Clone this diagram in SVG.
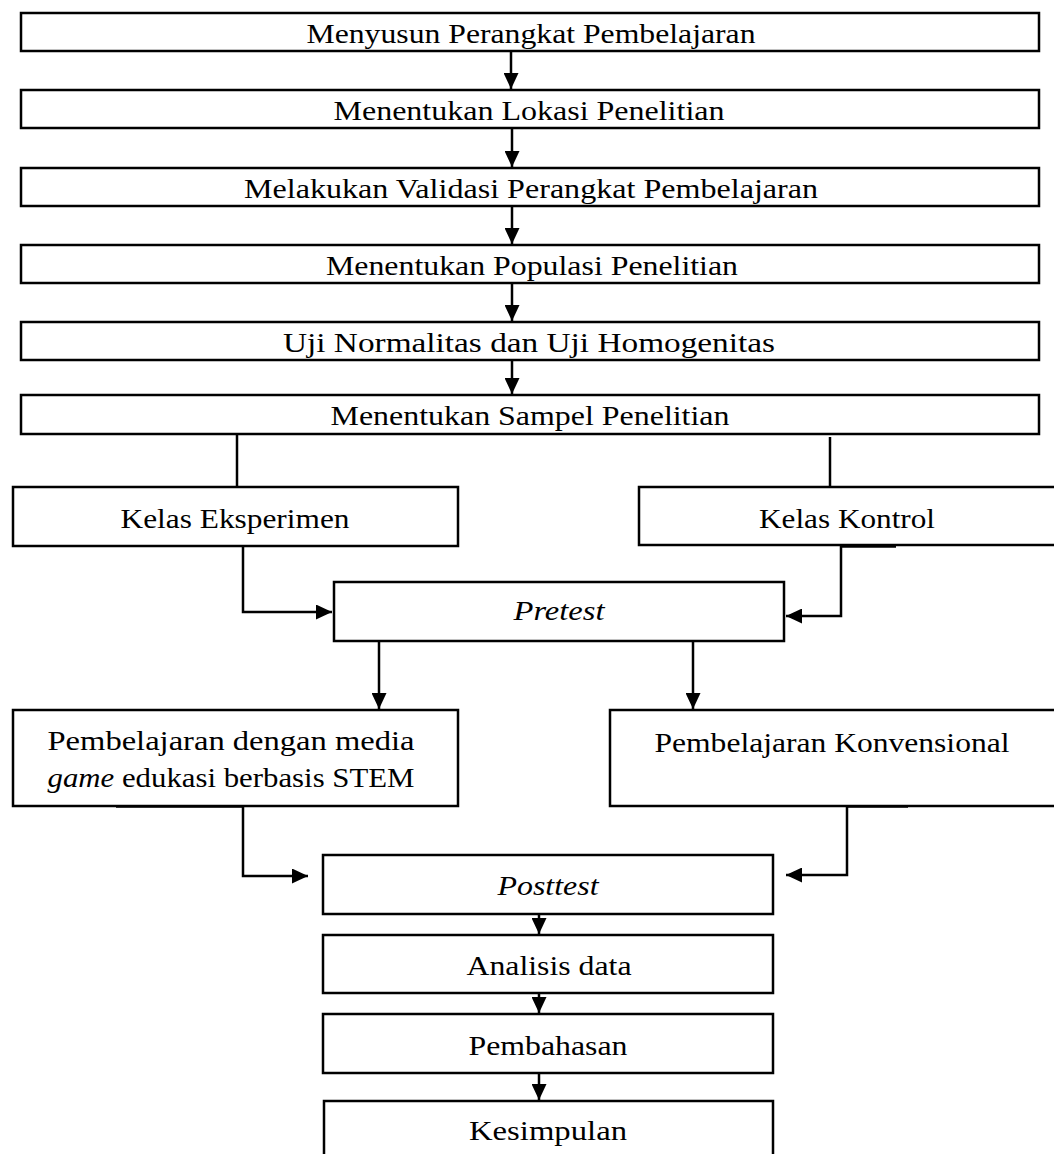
<svg xmlns="http://www.w3.org/2000/svg" width="1054" height="1154" viewBox="0 0 1054 1154">
<defs>
<marker id="ah" viewBox="0 0 16 15" refX="16" refY="7.5" markerWidth="16" markerHeight="15" markerUnits="userSpaceOnUse" orient="auto">
<path d="M0,0 L16,7.5 L0,15 Z" fill="#000"/>
</marker>
</defs>
<style>
.box{fill:#fff;stroke:#000;stroke-width:2.5}
.t{font-family:"Liberation Serif","Times New Roman",serif;font-size:27px;fill:#000;text-anchor:middle}
.i{font-style:italic}
.c{fill:none;stroke:#000;stroke-width:2.5}
.ct{fill:none;stroke:#000;stroke-width:3.5}
</style>
<rect width="1054" height="1154" fill="#fff"/>
<g id="connectors">
<line class="c" x1="511" y1="51" x2="511" y2="89" marker-end="url(#ah)"/>
<line class="c" x1="512" y1="128" x2="512" y2="167" marker-end="url(#ah)"/>
<line class="c" x1="512" y1="206" x2="512" y2="244" marker-end="url(#ah)"/>
<line class="c" x1="512" y1="283" x2="512" y2="321" marker-end="url(#ah)"/>
<line class="c" x1="512" y1="360" x2="512" y2="394" marker-end="url(#ah)"/>
<line class="c" x1="237" y1="434" x2="237" y2="487"/>
<line class="c" x1="830" y1="437" x2="830" y2="487"/>
<line class="ct" x1="144" y1="544" x2="243" y2="544"/>
<polyline class="c" points="243,544 243,612 332,612" marker-end="url(#ah)"/>
<line class="ct" x1="841" y1="546" x2="896" y2="546"/>
<polyline class="c" points="841,546 841,616 786,616" marker-end="url(#ah)"/>
<line class="c" x1="379" y1="641" x2="379" y2="709" marker-end="url(#ah)"/>
<line class="c" x1="693" y1="641" x2="693" y2="709" marker-end="url(#ah)"/>
<line class="ct" x1="116" y1="806" x2="243" y2="806"/>
<polyline class="c" points="243,806 243,876 308,876" marker-end="url(#ah)"/>
<line class="ct" x1="847" y1="806" x2="908" y2="806"/>
<polyline class="c" points="847,806 847,875 786,875" marker-end="url(#ah)"/>
<line class="c" x1="539" y1="914" x2="539" y2="934" marker-end="url(#ah)"/>
<line class="c" x1="539" y1="993" x2="539" y2="1013" marker-end="url(#ah)"/>
<line class="c" x1="539" y1="1073" x2="539" y2="1100" marker-end="url(#ah)"/>
</g>
<g id="n1"><rect class="box" x="21" y="13" width="1018" height="38"/><text class="t" x="531" y="43" textLength="449" lengthAdjust="spacingAndGlyphs">Menyusun Perangkat Pembelajaran</text></g>
<g id="n2"><rect class="box" x="21" y="90" width="1018" height="38"/><text class="t" x="529" y="120" textLength="391" lengthAdjust="spacingAndGlyphs">Menentukan Lokasi Penelitian</text></g>
<g id="n3"><rect class="box" x="21" y="168" width="1018" height="38"/><text class="t" x="531" y="198" textLength="574" lengthAdjust="spacingAndGlyphs">Melakukan Validasi Perangkat Pembelajaran</text></g>
<g id="n4"><rect class="box" x="21" y="245" width="1018" height="38"/><text class="t" x="532" y="275" textLength="412" lengthAdjust="spacingAndGlyphs">Menentukan Populasi Penelitian</text></g>
<g id="n5"><rect class="box" x="21" y="322" width="1018" height="38"/><text class="t" x="529" y="352" textLength="492" lengthAdjust="spacingAndGlyphs">Uji Normalitas dan Uji Homogenitas</text></g>
<g id="n6"><rect class="box" x="21" y="395" width="1018" height="39"/><text class="t" x="530" y="425" textLength="399" lengthAdjust="spacingAndGlyphs">Menentukan Sampel Penelitian</text></g>
<g id="n7"><rect class="box" x="13" y="487" width="445" height="59"/><text class="t" x="235" y="528" textLength="229" lengthAdjust="spacingAndGlyphs">Kelas Eksperimen</text></g>
<g id="n8"><rect class="box" x="639" y="487" width="425" height="58"/><text class="t" x="847" y="528" textLength="176" lengthAdjust="spacingAndGlyphs">Kelas Kontrol</text></g>
<g id="n9"><rect class="box" x="334" y="582" width="450" height="59"/><text class="t i" x="559" y="620" textLength="91" lengthAdjust="spacingAndGlyphs">Pretest</text></g>
<g id="n10"><rect class="box" x="13" y="710" width="445" height="96"/><text class="t" x="231" y="750" textLength="367" lengthAdjust="spacingAndGlyphs">Pembelajaran dengan media</text><text class="t" x="231" y="787" textLength="367" lengthAdjust="spacingAndGlyphs"><tspan class="i">game</tspan> edukasi berbasis STEM</text></g>
<g id="n11"><rect class="box" x="610" y="710" width="454" height="96"/><text class="t" x="832" y="752" textLength="355" lengthAdjust="spacingAndGlyphs">Pembelajaran Konvensional</text></g>
<g id="n12"><rect class="box" x="323" y="855" width="450" height="59"/><text class="t i" x="548" y="895" textLength="101" lengthAdjust="spacingAndGlyphs">Posttest</text></g>
<g id="n13"><rect class="box" x="323" y="935" width="450" height="58"/><text class="t" x="549" y="975" textLength="165" lengthAdjust="spacingAndGlyphs">Analisis data</text></g>
<g id="n14"><rect class="box" x="323" y="1014" width="450" height="59"/><text class="t" x="548" y="1055" textLength="159" lengthAdjust="spacingAndGlyphs">Pembahasan</text></g>
<g id="n15"><rect class="box" x="324" y="1101" width="449" height="70"/><text class="t" x="548" y="1140" textLength="158" lengthAdjust="spacingAndGlyphs">Kesimpulan</text></g>
</svg>
